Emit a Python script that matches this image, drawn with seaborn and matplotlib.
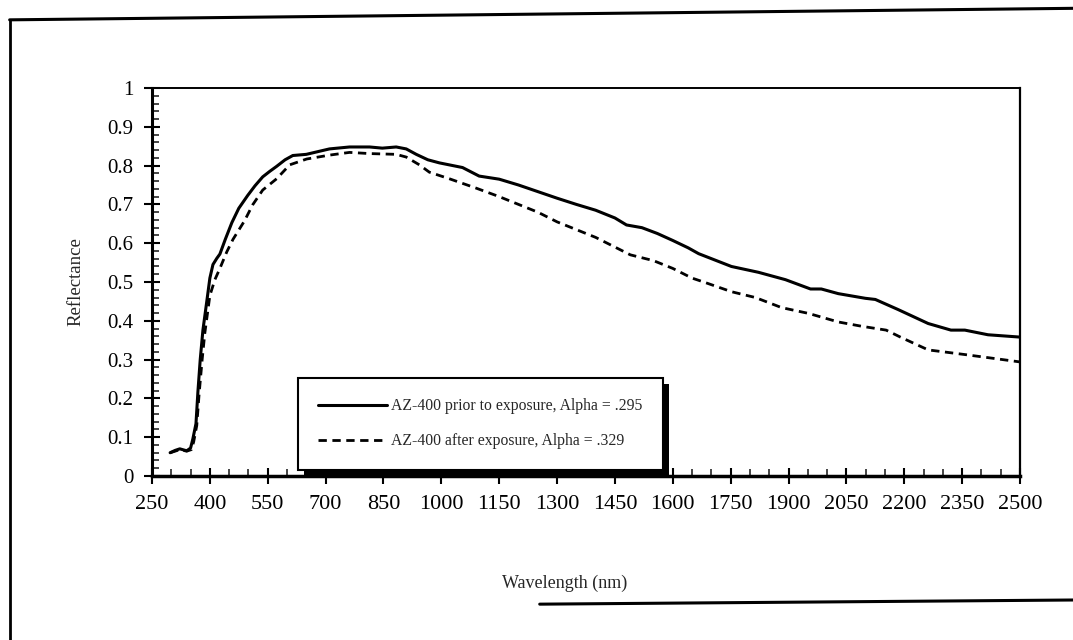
import numpy as np
import pandas as pd
import seaborn as sns
import matplotlib.pyplot as plt
from matplotlib.lines import Line2D
from matplotlib.patches import Rectangle
from matplotlib.ticker import MultipleLocator

# Reflectance spectra
wl_prior = [297, 310, 322, 340, 350, 356, 364, 369, 375, 382, 392, 400, 408, 418, 426,
            440, 457, 475, 498, 517, 537, 555, 573, 595, 615, 650, 680, 710, 762, 814,
            847, 883, 909, 935, 965, 995, 1055, 1098, 1150, 1200, 1250, 1300, 1350,
            1400, 1450, 1480, 1520, 1560, 1600, 1640, 1667, 1752, 1822, 1892, 1957,
            1985, 2029, 2099, 2125, 2184, 2262, 2321, 2357, 2417, 2500]
refl_prior = [0.060, 0.066, 0.070, 0.065, 0.072, 0.096, 0.135, 0.217, 0.300, 0.376,
              0.450, 0.510, 0.545, 0.561, 0.572, 0.610, 0.653, 0.690, 0.723, 0.748,
              0.771, 0.785, 0.798, 0.815, 0.826, 0.829, 0.836, 0.843, 0.848, 0.848,
              0.845, 0.848, 0.843, 0.829, 0.815, 0.807, 0.795, 0.773, 0.765, 0.750,
              0.733, 0.716, 0.700, 0.685, 0.665, 0.647, 0.640, 0.625, 0.607, 0.588,
              0.573, 0.540, 0.525, 0.506, 0.482, 0.482, 0.470, 0.458, 0.455, 0.429,
              0.393, 0.376, 0.376, 0.364, 0.358]

wl_after = [297, 310, 322, 340, 352, 358, 366, 372, 380, 387, 400, 413, 426, 444, 460,
            490, 511, 537, 573, 607, 651, 710, 762, 814, 883, 909, 943, 969, 1021,
            1090, 1150, 1200, 1250, 1300, 1350, 1400, 1450, 1490, 1550, 1600, 1650,
            1680, 1752, 1814, 1882, 1952, 2029, 2089, 2153, 2192, 2262, 2357, 2425, 2500]
refl_after = [0.060, 0.064, 0.068, 0.064, 0.068, 0.088, 0.130, 0.210, 0.300, 0.369,
              0.465, 0.506, 0.535, 0.578, 0.610, 0.658, 0.699, 0.737, 0.766, 0.802,
              0.817, 0.827, 0.834, 0.831, 0.829, 0.822, 0.802, 0.783, 0.766, 0.742,
              0.720, 0.700, 0.680, 0.655, 0.635, 0.615, 0.590, 0.570, 0.555, 0.535,
              0.510, 0.500, 0.475, 0.460, 0.434, 0.419, 0.397, 0.386, 0.376, 0.357,
              0.325, 0.313, 0.304, 0.294]

label_prior = "AZ-400 prior to exposure, Alpha = .295"
label_after = "AZ-400 after exposure, Alpha = .329"

sns.set_style("ticks")
plt.rcParams['font.family'] = ['Liberation Serif', 'DejaVu Serif']
plt.rcParams['font.size'] = 16

fig = plt.figure(figsize=(10.73, 6.40), dpi=100)
ax = fig.add_axes([152 / 1073, 1 - 476 / 640, 868 / 1073, 388 / 640])

sns.lineplot(x=wl_prior, y=refl_prior, ax=ax, color='black', lw=2.2,
             label=label_prior, sort=False)
sns.lineplot(x=wl_after, y=refl_after, ax=ax, color='black', lw=2.0,
             linestyle=(0, (3, 2)), label=label_after, sort=False)

ax.set_xlim(250, 2500)
ax.set_ylim(0, 1)
ax.set_xticks(np.arange(250, 2501, 150))
ax.xaxis.set_minor_locator(MultipleLocator(50))
ax.set_yticks(np.arange(0, 1.01, 0.1))
ax.set_yticklabels(['0'] + [f'{v:.1f}' for v in np.arange(0.1, 0.95, 0.1)] + ['1'])
ax.yaxis.set_minor_locator(MultipleLocator(0.02))
ax.tick_params(which='major', direction='inout', length=11, width=1.5,
               labelsize=16, colors='black', pad=8)
ax.tick_params(axis='y', which='major', labelsize=15)
ax.tick_params(which='minor', direction='in', length=5, width=1.2)
for side in ['left', 'right', 'top', 'bottom']:
    ax.spines[side].set_visible(True)
    ax.spines[side].set_color('black')
ax.spines['left'].set_linewidth(2.2)
ax.spines['bottom'].set_linewidth(2.5)
ax.spines['right'].set_linewidth(1.6)
ax.spines['top'].set_linewidth(1.4)

ax.set_xlabel("Wavelength (nm)", fontsize=13)
ax.xaxis.set_label_coords(0.475, -0.255)
ax.set_ylabel("Reflectance", fontsize=13.5, labelpad=16)

leg = ax.legend(loc='upper left', bbox_to_anchor=(298 / 1073, 1 - 378 / 640),
                bbox_transform=fig.transFigure, fontsize=11.3, frameon=True,
                fancybox=False, edgecolor='black', framealpha=1,
                handlelength=4.4, handletextpad=0.25, labelspacing=1.2,
                borderpad=1.3, borderaxespad=0)
leg.get_frame().set_linewidth(1.5)

# shadow behind the legend box
fig.canvas.draw()
bb = leg.get_window_extent()
shadow = Rectangle((bb.x0 + 6, bb.y0 - 6), bb.width, bb.height, transform=None,
                   facecolor='black', edgecolor='none', zorder=4.5, clip_on=False)
ax.add_artist(shadow)

# outer frame of the scanned page
fig.add_artist(Line2D([0.009, 0.009], [0.0, 0.969], color='black', lw=2))
fig.add_artist(Line2D([0.009, 1.0], [0.969, 0.987], color='black', lw=2.2))
fig.add_artist(Line2D([0.503, 1.0], [0.056, 0.0625], color='black', lw=2.2))

fig.savefig("out.png", dpi=100)
